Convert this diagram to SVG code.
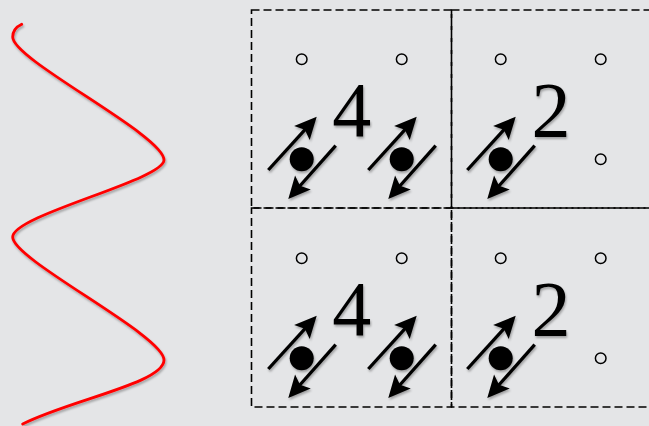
<svg xmlns="http://www.w3.org/2000/svg" width="649" height="426" viewBox="0 0 649 426">
<style>
.cell{fill:none;stroke:#000;stroke-width:1.6;stroke-dasharray:8 4}
.site{fill:none;stroke:#000;stroke-width:1.5}
.dot{fill:#000}
.spin{stroke:#000;stroke-width:3.3;fill:none;marker-end:url(#head)}
.num{font-family:"Liberation Serif","Times New Roman",serif;font-size:78px;fill:#000;text-anchor:middle}
.wave{fill:none;stroke:#ff0000;stroke-width:2.8;stroke-linecap:round}
</style>
<defs>
<marker id="head" markerUnits="userSpaceOnUse" orient="auto" refX="0" refY="0" markerWidth="40" markerHeight="40" overflow="visible">
<path d="M14,0 L-8,-10.5 L-3.6,0 L-8,10.5 Z" fill="#000"/>
</marker>
<filter id="sh" x="-20%" y="-20%" width="140%" height="140%">
<feDropShadow dx="1" dy="2" stdDeviation="1.2" flood-color="#000" flood-opacity="0.3"/>
</filter>
</defs>
<rect width="649" height="426" fill="#e4e5e7"/>
<g id="wave" filter="url(#sh)">
<path class="wave" d="M21.7,24.3 C16,27 12.7,31 12.7,37 C12.7,60 164,135 164,160 C164,180 12.7,215 12.7,237 C12.7,260 164,335 164,360 C164,383 70,400 22.7,424"/>
</g>
<g id="cell-top-left">
<rect class="cell" x="251.5" y="10" width="200" height="198"/>
<circle class="site" cx="301.7" cy="59.3" r="5.3"/>
<circle class="site" cx="401.7" cy="59.3" r="5.3"/>
<g filter="url(#sh)">
<text class="num" x="351.7" y="136">4</text>
<circle class="dot" cx="301.7" cy="159.3" r="12"/>
<path class="spin" d="M268.3,170 L307.3,127.1"/>
<path class="spin" d="M335.7,145.7 L297.6,188.5"/>
<circle class="dot" cx="401.7" cy="159.3" r="12"/>
<path class="spin" d="M368.3,170 L407.3,127.1"/>
<path class="spin" d="M435.7,145.7 L397.6,188.5"/>
</g>
</g>
<g id="cell-top-right">
<rect class="cell" x="451.5" y="10" width="220" height="198"/>
<circle class="site" cx="500.7" cy="59.3" r="5.3"/>
<circle class="site" cx="600.7" cy="59.3" r="5.3"/>
<circle class="site" cx="600.7" cy="159.3" r="5.3"/>
<g filter="url(#sh)">
<text class="num" x="551" y="136">2</text>
<circle class="dot" cx="500.7" cy="159.3" r="12"/>
<path class="spin" d="M467.3,170 L506.3,127.1"/>
<path class="spin" d="M534.7,145.7 L496.6,188.5"/>
</g>
</g>
<g id="cell-bottom-left">
<rect class="cell" x="251.5" y="208" width="200" height="199"/>
<circle class="site" cx="301.7" cy="258.3" r="5.3"/>
<circle class="site" cx="401.7" cy="258.3" r="5.3"/>
<g filter="url(#sh)">
<text class="num" x="351.7" y="335">4</text>
<circle class="dot" cx="301.7" cy="358.3" r="12"/>
<path class="spin" d="M268.3,369 L307.3,326.1"/>
<path class="spin" d="M335.7,344.7 L297.6,387.5"/>
<circle class="dot" cx="401.7" cy="358.3" r="12"/>
<path class="spin" d="M368.3,369 L407.3,326.1"/>
<path class="spin" d="M435.7,344.7 L397.6,387.5"/>
</g>
</g>
<g id="cell-bottom-right">
<rect class="cell" x="451.5" y="208" width="220" height="199"/>
<circle class="site" cx="500.7" cy="258.3" r="5.3"/>
<circle class="site" cx="600.7" cy="258.3" r="5.3"/>
<circle class="site" cx="600.7" cy="358.3" r="5.3"/>
<g filter="url(#sh)">
<text class="num" x="551" y="335">2</text>
<circle class="dot" cx="500.7" cy="358.3" r="12"/>
<path class="spin" d="M467.3,369 L506.3,326.1"/>
<path class="spin" d="M534.7,344.7 L496.6,387.5"/>
</g>
</g>
<g id="connectors"/>
</svg>
